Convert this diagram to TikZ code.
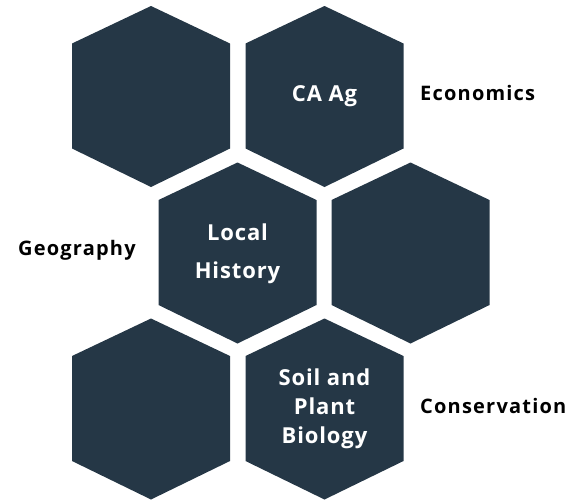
\documentclass[tikz,border=0pt]{standalone}
\usepackage{fontspec}
\setmainfont{Open Sans}
\newfontfamily\outfont[LetterSpace=6]{Open Sans}
\newfontfamily\infont[LetterSpace=4]{Open Sans}
\definecolor{hexfill}{HTML}{253746}
\tikzset{
  hexcell/.style={fill=hexfill,draw=none},
  intext/.style={text=white,font=\infont\bfseries\fontsize{22}{29}\selectfont,inner sep=0pt},
  outtext/.style={text=black,font=\outfont\bfseries\fontsize{20}{24}\selectfont,inner sep=0pt,anchor=base west},
}
\newcommand{\hexat}[3]{%
  \fill[hexcell] (#1,#2) ++(0,-90.5) -- ++(79,37.5) -- ++(0,105) -- ++(-79,38.5) -- ++(-79,-38.5) -- ++(0,-105) -- cycle;
  \coordinate (#3) at (#1,#2);
}
\begin{document}
\begin{tikzpicture}[x=1pt,y=-1pt]
\useasboundingbox (0,0) rectangle (585,501);
\hexat{151}{96.5}{h1}
\hexat{324.5}{96.5}{h2}
\hexat{237.5}{253}{h3}
\hexat{410.5}{253}{h4}
\hexat{151}{409}{h5}
\hexat{324.5}{409}{h6}
\node[intext,anchor=base] (t2) at (324.5,101.5) {CA Ag};
\node[intext,anchor=base] (t3a) at (237.5,240) {Local};
\node[intext,anchor=base] (t3b) at (237.5,278) {History};
\node[intext,anchor=base] (t6a) at (324.5,385) {Soil and};
\node[intext,anchor=base] (t6b) at (324.5,414) {Plant};
\node[intext,anchor=base] (t6c) at (324.5,443) {Biology};
\node[outtext] (econ) at (420,100) {Economics};
\node[outtext] (geo) at (18,255) {Geography};
\node[outtext] (cons) at (420,413) {Conservation};
\end{tikzpicture}
\end{document}
